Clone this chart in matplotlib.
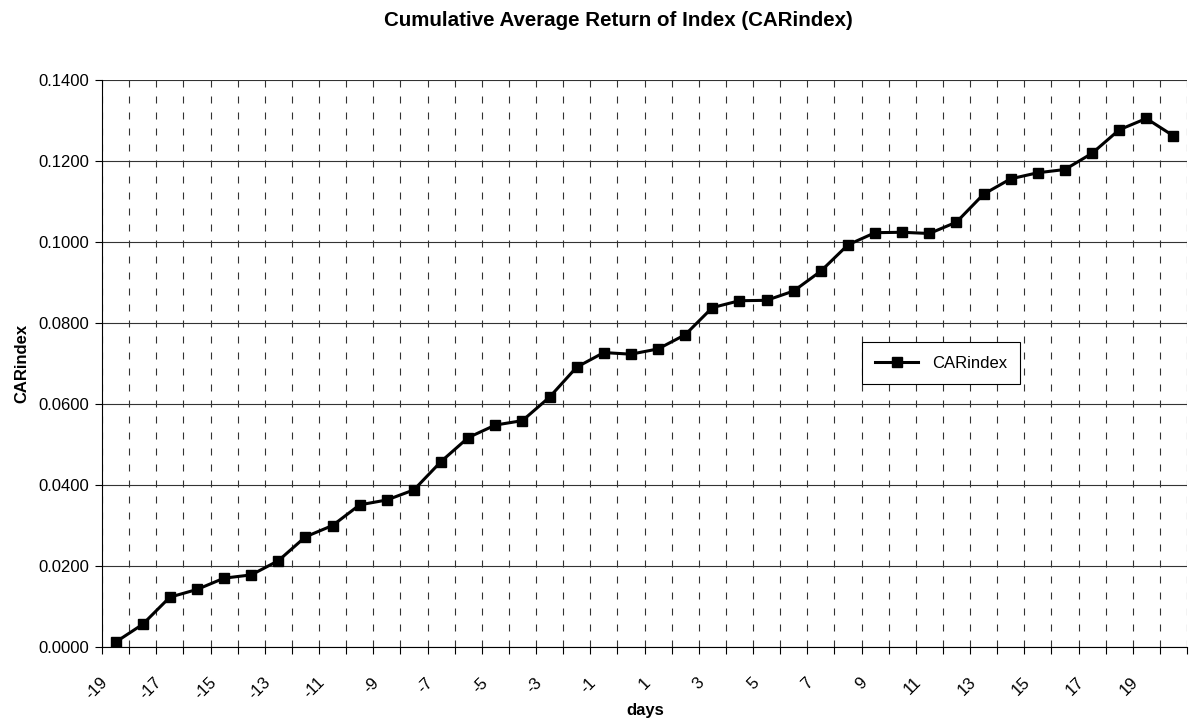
import numpy as np
import matplotlib
matplotlib.use('Agg')
import matplotlib.pyplot as plt
import matplotlib.transforms as mtransforms
from matplotlib.ticker import FixedLocator, FormatStrFormatter

plt.rcParams['font.family'] = ['Liberation Sans', 'DejaVu Sans']

# days relative to the event
days = list(range(-19, 21))
# cumulative average return of the index
car_index = [0.0012, 0.0056, 0.0123, 0.0142, 0.0170, 0.0178, 0.0213, 0.0272,
             0.0300, 0.0351, 0.0363, 0.0388, 0.0458, 0.0517, 0.0548, 0.0559,
             0.0617, 0.0691, 0.0727, 0.0723, 0.0736, 0.0771, 0.0838, 0.0855,
             0.0856, 0.0879, 0.0928, 0.0993, 0.1023, 0.1024, 0.1021, 0.1049,
             0.1118, 0.1156, 0.1171, 0.1179, 0.1219, 0.1277, 0.1305, 0.1262]
label_days = list(range(-19, 20, 2))

fig = plt.figure(figsize=(11.93, 7.25), dpi=100)
ax = fig.add_axes([102/1193, 78/725, 1085/1193, 567/725])

ax.plot(days, car_index, color='black', lw=2.2, marker='s', ms=7.5,
        label='CARindex', zorder=3)

ax.set_xlim(-19.5, 20.5)
ax.set_ylim(0, 0.14)
ax.set_yticks(np.arange(0, 0.1401, 0.02))
ax.yaxis.set_major_formatter(FormatStrFormatter('%.4f'))

# category labels at odd days, tick marks on category boundaries
ax.set_xticks(label_days)
ax.set_xticklabels([str(d) for d in label_days])
ax.xaxis.set_minor_locator(FixedLocator(np.arange(-19.5, 20.6, 1)))
ax.tick_params(axis='x', which='major', length=0, pad=20, labelsize=12)
ax.tick_params(axis='x', which='minor', length=5, width=0.8, direction='out')
ax.tick_params(axis='y', length=5, width=0.8, direction='out', pad=4, labelsize=12)

shift = mtransforms.ScaledTranslation(-5/100, 0, fig.dpi_scale_trans)
for lbl in ax.get_xticklabels():
    lbl.set_rotation(45)
    lbl.set_ha('right')
    lbl.set_va('top')
    lbl.set_transform(lbl.get_transform() + shift)

ax.grid(which='minor', axis='x', color='#333333', lw=0.8, dashes=(6.3, 8.1))
ax.grid(which='major', axis='y', color='#333333', lw=0.8)
ax.set_axisbelow(True)

for s in ['top', 'right']:
    ax.spines[s].set_visible(False)
ax.spines['left'].set_linewidth(0.8)
ax.spines['bottom'].set_linewidth(0.8)

fig.text(618/1193, 1 - 20/725, 'Cumulative Average Return of Index (CARindex)',
         ha='center', va='center', fontsize=14.8, fontweight='bold')
fig.text(645/1193, 1 - 710/725, 'days', ha='center', va='center',
         fontsize=12, fontweight='bold')
fig.text(22/1193, 1 - 363/725, 'CARindex', ha='center', va='center',
         rotation=90, fontsize=12, fontweight='bold')

leg = ax.legend(loc='center', bbox_to_anchor=(941/1193, 1 - 363/725),
                bbox_transform=fig.transFigure, fontsize=12, frameon=True,
                fancybox=False, edgecolor='black', handlelength=2.6,
                borderpad=0.8, borderaxespad=0)
leg.get_frame().set_linewidth(0.8)
leg.get_frame().set_alpha(1)

fig.savefig('out.png', dpi=100)
